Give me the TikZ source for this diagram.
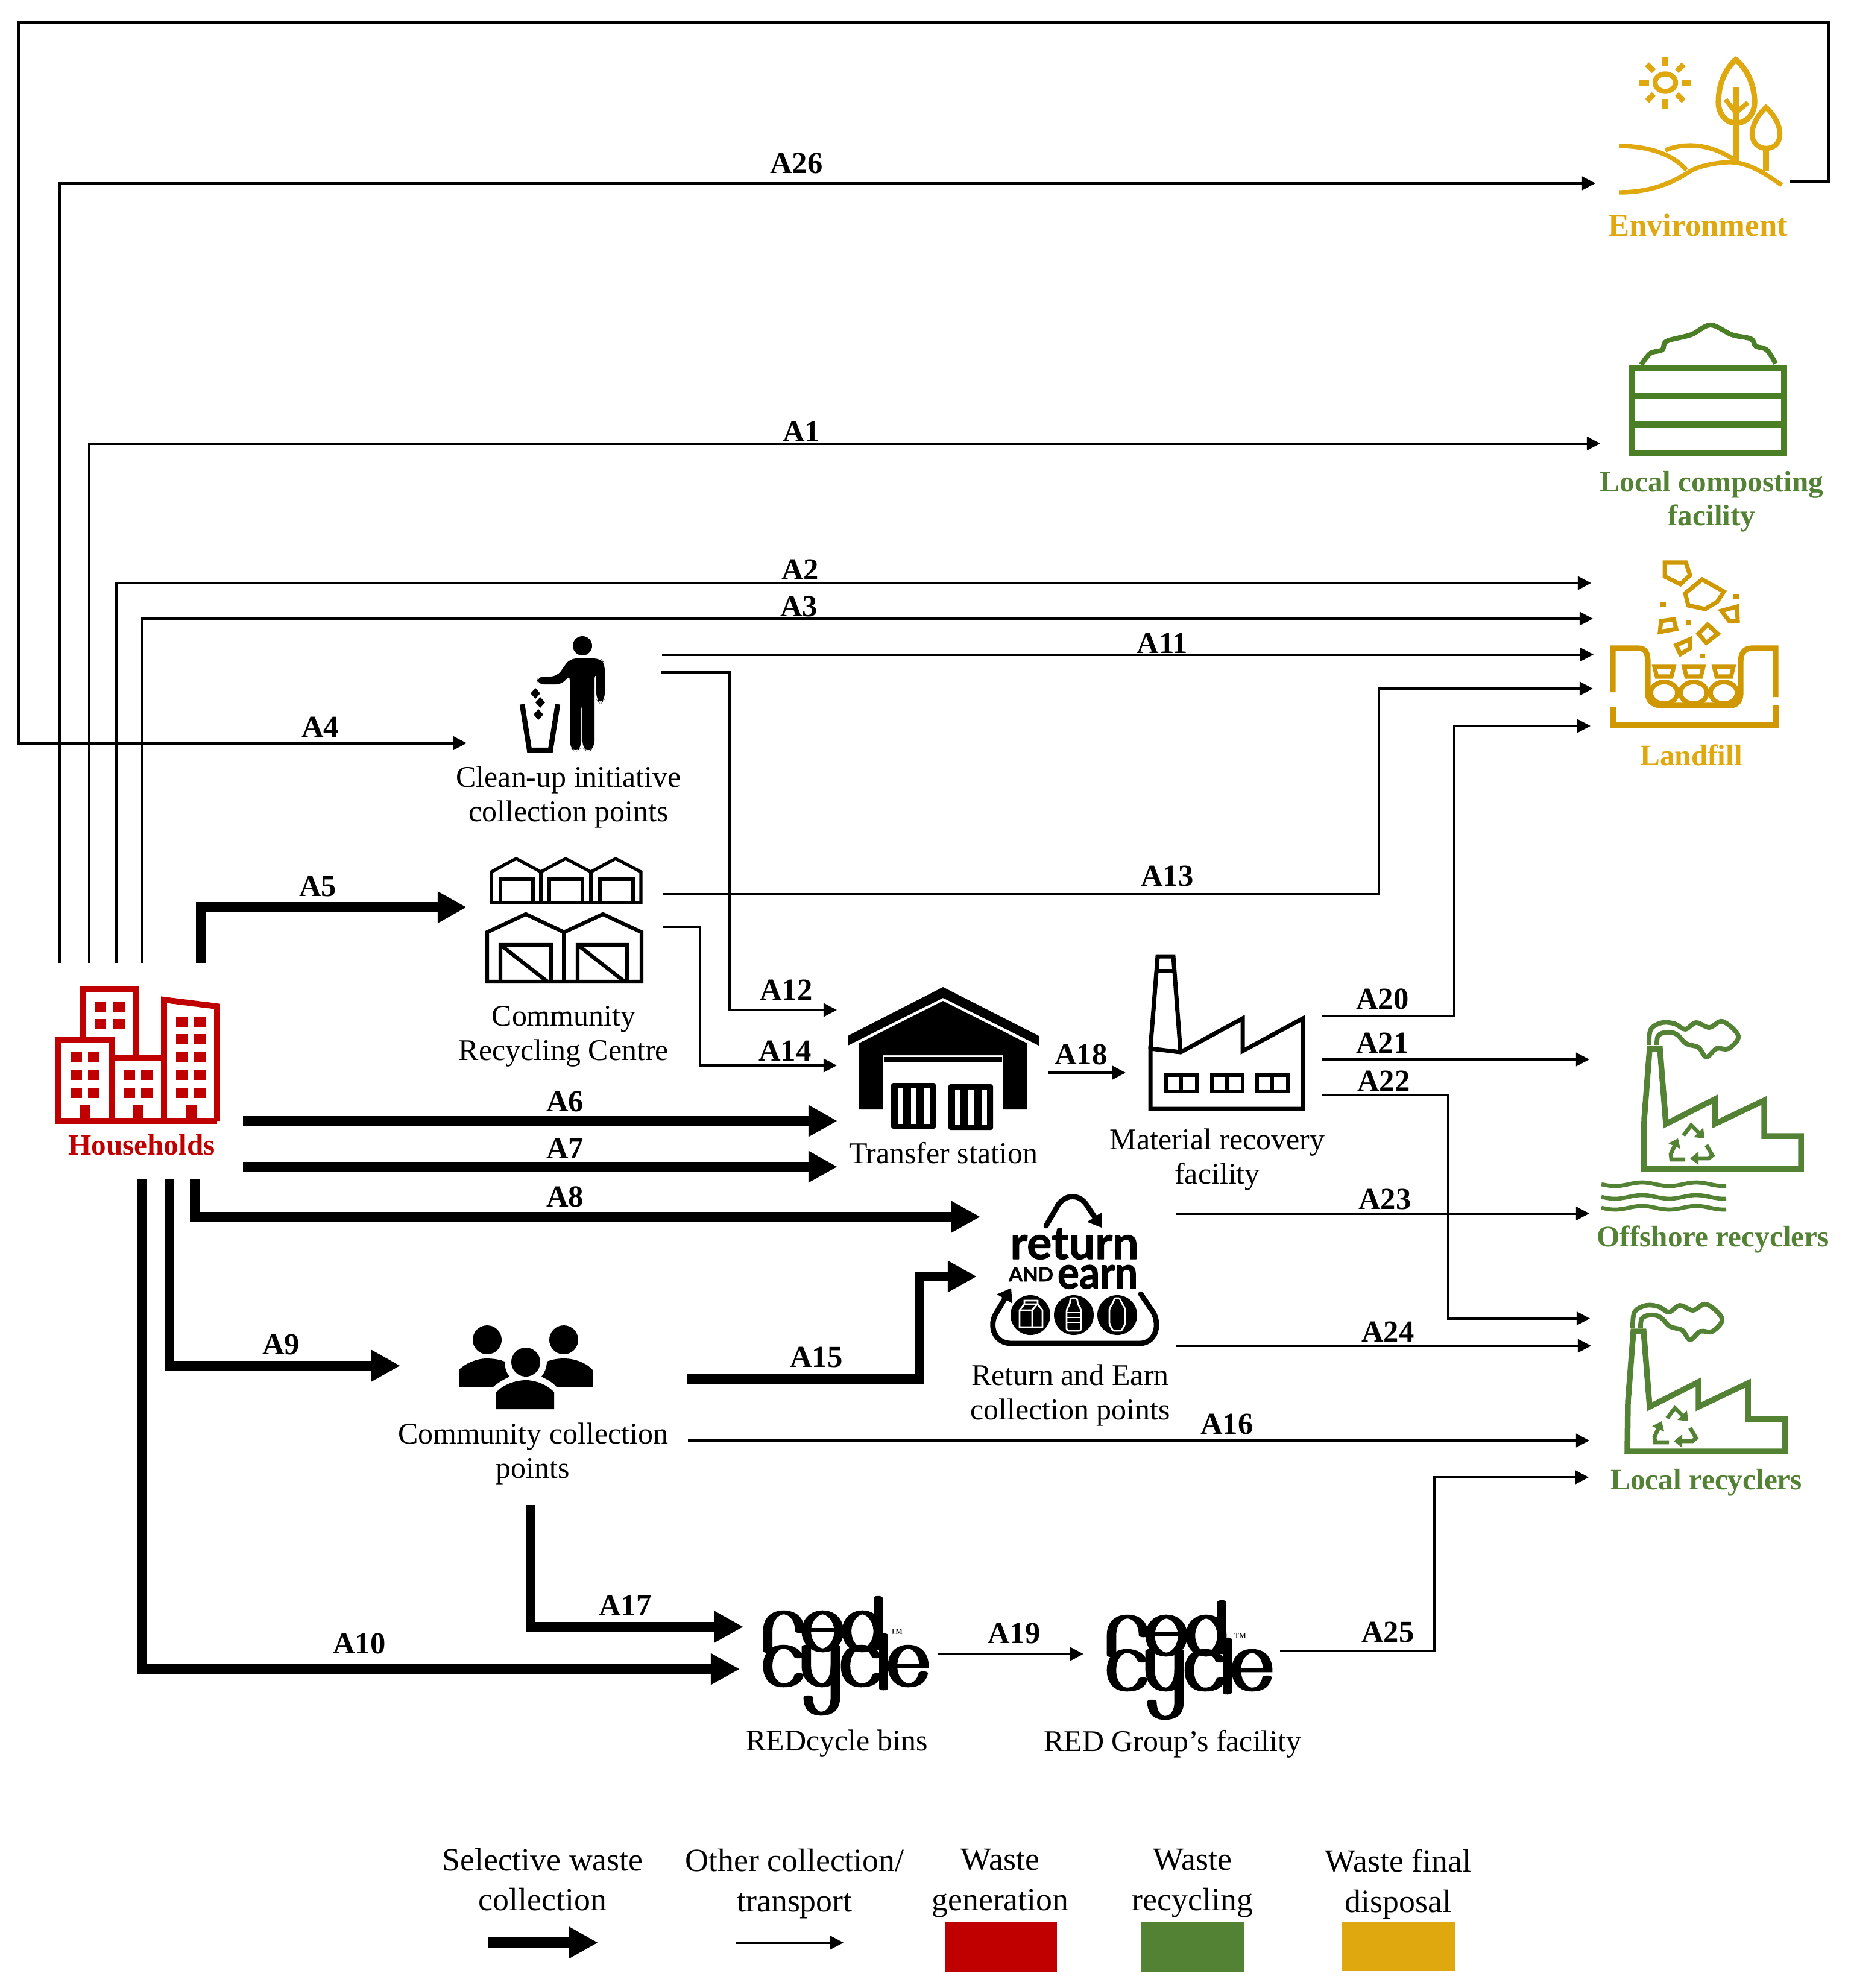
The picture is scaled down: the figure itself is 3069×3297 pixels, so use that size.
\documentclass[tikz,border=0pt]{standalone}
\usepackage{graphicx}
\usepackage{fontspec}
\setmainfont{Liberation Serif}
\newfontfamily\logofont{Lato}[BoldFeatures={FakeBold=1.5}]
\usetikzlibrary{arrows.meta,calc}
\definecolor{hhred}{HTML}{C00000}
\definecolor{recgreen}{HTML}{548235}
\definecolor{compgreen}{HTML}{4A7F25}
\definecolor{envgold}{HTML}{DFA80F}
\definecolor{lfgold}{HTML}{CF9700}
\tikzset{
  thinline/.style={draw=black,line width=1.14pt,-{Triangle[length=6.3pt,width=6.3pt]}},
  thickline/.style={draw=black,line width=4.8pt,-{Triangle[length=13.7pt,width=14pt]}},
  lab/.style={inner sep=0pt,xshift=.02cm,yshift=-.02cm,font=\fontsize{14.4}{16}\selectfont\bfseries},
  txt/.style={inner sep=0pt,align=center,xshift=.02cm,yshift=-.06cm,font=\fontsize{14.2}{16.2}\selectfont},
  ent/.style={inner sep=0pt,align=center,xshift=.02cm,yshift=-.04cm,font=\fontsize{14}{16}\selectfont\bfseries},
  leg/.style={inner sep=0pt,align=center,font=\fontsize{15.3}{19}\selectfont},
}
% recycling factory icon, drawn in the offshore position and shifted
\newcommand{\recfactory}[2]{%
\begin{scope}[shift={(#1,#2)},draw=recgreen,fill=recgreen]
  \draw[line width=2.7pt,line join=miter] (2726,1938) -- (2727,1856) -- (2736,1739) -- (2753,1739) -- (2763,1864) -- (2844,1823) -- (2844,1864) -- (2926,1825) -- (2926,1884) -- (2987,1884) -- (2987,1938) -- cycle;
  \draw[line width=2.2pt] plot[smooth,tension=.6] coordinates {(2735,1733) (2738,1707) (2757,1696) (2778,1698) (2795,1707) (2813,1696) (2835,1704) (2857,1694) (2883,1718) (2867,1739) (2847,1739) (2830,1753) (2817,1737) (2797,1731) (2780,1715) (2763,1712) (2750,1718) (2748,1733)};
  \draw[line width=1.9pt,-{Triangle[length=4pt,width=6pt]}] (2792,1883) -- (2805,1866) -- (2827,1888);
  \draw[line width=1.9pt,-{Triangle[length=4pt,width=6pt]}] (2830,1899) -- (2840,1916) -- (2834,1921) -- (2803,1921);
  \draw[line width=1.9pt,-{Triangle[length=4pt,width=6pt]}] (2795,1923) -- (2772,1923) -- (2771,1914) -- (2783,1888);
\end{scope}}
% redcycle logo: strokes thick when upright, thin when level
\newcommand{\redcyclelogo}[3]{%
\begin{scope}[transform canvas={xscale=2.4},x=0.0041667cm,shift={(#1,#2)},line width=1.85pt,line cap=round,draw=black]
  \draw (1273,2738) -- (1273,2705) .. controls (1273,2685) and (1285,2674) .. (1299,2674) .. controls (1315,2674) and (1326,2685) .. (1326,2705);
  \draw (1364,2705.5) ellipse [x radius=27,y radius=31.5];
  \draw (1337,2703) -- (1391,2703);
  \draw (1430,2705.5) ellipse [x radius=26,y radius=31.5];
  \draw (1456,2650) -- (1456,2733);
  \foreach \dx in {0,129}{
    \draw[shift={(\dx,0)}] (1324,2747) .. controls (1320,2737) and (1310,2731) .. (1299,2731) .. controls (1282,2731) and (1273,2745) .. (1273,2763) .. controls (1273,2781) and (1282,2795) .. (1299,2795) .. controls (1312,2795) and (1322,2790) .. (1325,2778);
  }
  \draw (1337,2731) -- (1337,2763) .. controls (1337,2781) and (1348,2795) .. (1363,2795) .. controls (1378,2795) and (1385,2781) .. (1385,2763);
  \draw (1385,2731) -- (1385,2815) .. controls (1385,2835) and (1375,2842) .. (1361,2842) .. controls (1347,2842) and (1340,2830) .. (1340,2815);
  \draw (1465,2712) -- (1465,2800);
  \draw (1480,2763) -- (1532,2763) .. controls (1532,2745) and (1522,2731) .. (1506,2731) .. controls (1490,2731) and (1480,2745) .. (1480,2763) .. controls (1480,2781) and (1490,2795) .. (1506,2795) .. controls (1520,2795) and (1528,2788) .. (1531,2775);
\end{scope}
\node[inner sep=0pt,font=\fontsize{6}{6}\selectfont] (#3) at ($(1487,2709)+(#1,#2)$) {™};}
\begin{document}
\begin{tikzpicture}[x=0.01cm,y=-0.01cm]
\path[use as bounding box,fill=white] (0,0) rectangle (3069,3297);

%% ---------- connector end points ----------
\coordinate (hh26) at (98.6,1597);  \coordinate (env26) at (2646,304);
\coordinate (hh1)  at (147.7,1597); \coordinate (comp1) at (2654,735.5);
\coordinate (hh2)  at (192.6,1597); \coordinate (lf2)  at (2639,967);
\coordinate (hh3)  at (236,1597);   \coordinate (lf3)  at (2642,1026);
\coordinate (envOut) at (2969,301); \coordinate (loopTR) at (3033,37); \coordinate (loopL) at (31,1232.5);
\coordinate (clean4) at (774,1232.5);
\coordinate (clean11) at (1098,1085.5); \coordinate (lf11) at (2643,1085.5);
\coordinate (clean12) at (1097,1115); \coordinate (j12) at (1210,1115); \coordinate (ts12) at (1388,1675);
\coordinate (crc13) at (1100,1483); \coordinate (j13) at (2287,1483); \coordinate (lf13) at (2642,1142);
\coordinate (crc14) at (1100,1537); \coordinate (j14) at (1161,1537); \coordinate (ts14) at (1388,1767);
\coordinate (hh5) at (333.6,1597); \coordinate (crc5) at (774,1504.6);
\coordinate (hh6) at (403,1859); \coordinate (ts6) at (1389,1859);
\coordinate (hh7) at (403,1935); \coordinate (ts7) at (1389,1935);
\coordinate (hh8) at (323,1955); \coordinate (re8) at (1626,2018);
\coordinate (hh9) at (281,1955); \coordinate (cc9) at (664,2265);
\coordinate (hh10) at (235,1955); \coordinate (rb10) at (1227,2768);
\coordinate (cc15) at (1139,2287); \coordinate (j15) at (1525,2287); \coordinate (re15) at (1620,2117);
\coordinate (cc16) at (1141,2389); \coordinate (lr16) at (2636,2389);
\coordinate (cc17) at (880,2496); \coordinate (rb17) at (1233,2698);
\coordinate (ts18) at (1739,1779); \coordinate (mrf18) at (1867,1779);
\coordinate (rb19) at (1556,2743); \coordinate (rg19) at (1797,2743);
\coordinate (mrf20) at (2192,1685); \coordinate (j20) at (2412,1685); \coordinate (lf20) at (2638,1204);
\coordinate (mrf21) at (2192,1757); \coordinate (off21) at (2636,1757);
\coordinate (mrf22) at (2192,1816); \coordinate (j22) at (2402,1816); \coordinate (lr22) at (2637,2186.6);
\coordinate (re23) at (1949.5,2012.5); \coordinate (off23) at (2636,2012.5);
\coordinate (re24) at (1949.5,2232); \coordinate (lr24) at (2639,2232);
\coordinate (rg25) at (2123,2738); \coordinate (j25) at (2379,2738); \coordinate (lr25) at (2635,2450);
\coordinate (legA) at (810,3221.7); \coordinate (legB) at (992,3221.7);
\coordinate (legC) at (1220,3221.7); \coordinate (legD) at (1399,3221.7);

%% ---------- connectors ----------
\draw[thinline] (hh26) |- (env26);
\draw[thinline] (hh1) |- (comp1);
\draw[thinline] (hh2) |- (lf2);
\draw[thinline] (hh3) |- (lf3);
\draw[thinline] (envOut) -| (loopTR) -| (loopL) -- (clean4);
\draw[thinline] (clean11) -- (lf11);
\draw[thinline] (clean12) -- (j12) |- (ts12);
\draw[thinline,line width=1.4pt] (crc13) -- (j13) |- (lf13);
\draw[thinline] (crc14) -- (j14) |- (ts14);
\draw[thickline] (hh5) |- (crc5);
\draw[thickline] (hh6) -- (ts6);
\draw[thickline] (hh7) -- (ts7);
\draw[thickline] (hh8) |- (re8);
\draw[thickline] (hh9) |- (cc9);
\draw[thickline] (hh10) |- (rb10);
\draw[thickline] (cc15) -- (j15) |- (re15);
\draw[thinline] (cc16) -- (lr16);
\draw[thickline] (cc17) |- (rb17);
\draw[thinline] (ts18) -- (mrf18);
\draw[thinline] (rb19) -- (rg19);
\draw[thinline] (mrf20) -- (j20) |- (lf20);
\draw[thinline] (mrf21) -- (off21);
\draw[thinline] (mrf22) -- (j22) |- (lr22);
\draw[thinline] (re23) -- (off23);
\draw[thinline] (re24) -- (lr24);
\draw[thinline] (rg25) -- (j25) |- (lr25);
\draw[thickline] (legA) -- (legB);
\draw[thinline] (legC) -- (legD);

%% ---------- connector labels ----------
\node[lab] (lA26) at (1319,269) {A26};
\node[lab] (lA1) at (1327,714) {A1};
\node[lab] (lA2) at (1325,943) {A2};
\node[lab] (lA3) at (1323,1004) {A3};
\node[lab] (lA11) at (1926,1065) {A11};
\node[lab] (lA4) at (529,1204) {A4};
\node[lab] (lA5) at (525,1468) {A5};
\node[lab] (lA13) at (1934,1451) {A13};
\node[lab] (lA12) at (1302,1640) {A12};
\node[lab] (lA14) at (1300,1741) {A14};
\node[lab] (lA6) at (935,1825) {A6};
\node[lab] (lA7) at (935,1903) {A7};
\node[lab] (lA8) at (935,1983) {A8};
\node[lab] (lA18) at (1791,1747) {A18};
\node[lab] (lA20) at (2291,1655) {A20};
\node[lab] (lA21) at (2291,1728) {A21};
\node[lab] (lA22) at (2293,1791) {A22};
\node[lab] (lA23) at (2295,1987) {A23};
\node[lab] (lA24) at (2300,2207) {A24};
\node[lab] (lA15) at (1352,2249) {A15};
\node[lab] (lA9) at (464,2228) {A9};
\node[lab] (lA16) at (2033,2360) {A16};
\node[lab] (lA17) at (1035,2661) {A17};
\node[lab] (lA10) at (594,2724) {A10};
\node[lab] (lA19) at (1680,2707) {A19};
\node[lab] (lA25) at (2300,2705) {A25};

%% ---------- entity labels ----------
\node[ent,text=envgold,font=\fontsize{15}{16}\selectfont\bfseries] (envT) at (2814,369) {Environment};
\node[ent,text=recgreen] (compT) at (2837,828) {Local composting\\facility};
\node[ent,text=envgold] (lfT) at (2803,1248) {Landfill};
\node[ent,text=recgreen] (offT) at (2839,2051) {Offshore recyclers};
\node[ent,text=recgreen] (lrT) at (2828,2455) {Local recyclers};
\node[ent,text=hhred] (hhT) at (233,1895) {Households};
\node[txt] (cleanT) at (941,1316) {Clean-up initiative\\collection points};
\node[txt] (crcT) at (933,1713) {Community\\Recycling Centre};
\node[txt] (tsT) at (1562.5,1906) {Transfer station};
\node[txt] (mrfT) at (2017,1917) {Material recovery\\facility};
\node[txt] (reT) at (1773,2307.5) {Return and Earn\\collection points};
\node[txt] (ccT) at (882,2404.5) {Community collection\\points};
\node[txt] (rbT) at (1386,2886) {REDcycle bins};
\node[txt] (rgT) at (1943,2886) {RED Group’s facility};

%% ---------- legend ----------
\node[leg] (lg1) at (900,3117) {Selective waste\\collection};
\node[leg] (lg2) at (1318,3124) {Other collection/\\transport};
\node[leg] (lg3) at (1659,3123.5) {Waste\\generation};
\node[leg] (lg4) at (1978,3123.5) {Waste\\recycling};
\node[leg] (lg5) at (2319,3125) {Waste final\\disposal};
\fill[hhred] (1567,3188) rectangle (1753,3270);
\fill[recgreen] (1892,3188) rectangle (2063,3270);
\fill[envgold] (2226,3187) rectangle (2413,3269);

%% ---------- Households icon ----------
\begin{scope}[draw=hhred,fill=hhred,line width=2.8pt,line join=miter]
  \draw (137,1719) -- (137,1640) -- (225,1640) -- (225,1749);
  \draw (97,1724) rectangle (185,1859);
  \draw (185,1754) -- (272,1754);
  \draw (97,1859) -- (360,1859);
  \draw (272,1859) -- (272,1658) -- (360,1669) -- (360,1859);
  \foreach \xx in {157,188}\foreach \yy in {1661,1690}\fill (\xx,\yy) rectangle ++(19,17);
  \foreach \xx in {117,146}\foreach \yy in {1745,1774,1804}\fill (\xx,\yy) rectangle ++(19,17);
  \foreach \xx in {205,234}\foreach \yy in {1774,1804}\fill (\xx,\yy) rectangle ++(19,17);
  \foreach \xx in {292,322}\foreach \yy in {1686,1715,1745,1774,1804}\fill (\xx,\yy) rectangle ++(19,17);
  \foreach \xx in {132,220,308}\fill (\xx,1832) rectangle ++(18,32);
\end{scope}

%% ---------- Clean-up icon ----------
\fill (966,1071) circle [radius=16];
\fill[rounded corners=3pt] (945,1092) -- (996,1092) -- (1003,1100) -- (1003,1160) -- (996,1168) -- (989,1160) -- (989,1115) -- (986,1115) -- (986,1240) -- (975,1248) -- (966,1240) -- (966,1166) -- (964,1166) -- (964,1240) -- (955,1248) -- (945,1240) -- (945,1118) -- (933,1135) -- (891,1135) -- (891,1122) -- (924,1122) -- cycle;
\draw[line width=2.4pt,line join=miter] (866,1168) -- (878,1244) -- (913,1244) -- (925,1168);
\foreach \cx/\cy in {888/1150,896/1165,893/1185}\fill (\cx-8,\cy) -- (\cx,\cy-9) -- (\cx+8,\cy) -- (\cx,\cy+9) -- cycle;

%% ---------- Community Recycling Centre icon ----------
\begin{scope}[line width=1.5pt,line join=miter]
  \draw (815,1497) -- (815,1446) -- (856,1424) -- (897,1446) -- (938,1424) -- (980,1446) -- (1021,1424) -- (1063,1446) -- (1063,1497) -- cycle;
  \draw (897,1446) -- (897,1497) (980,1446) -- (980,1497);
  \draw (830,1497) -- (830,1458) -- (884,1458) -- (884,1497);
  \draw (911,1497) -- (911,1458) -- (966,1458) -- (966,1497);
  \draw (995,1497) -- (995,1458) -- (1050,1458) -- (1050,1497);
\end{scope}
\begin{scope}[line width=1.8pt,line join=miter]
  \draw (808,1628) -- (808,1546) -- (872,1516) -- (935.5,1546) -- (1000,1516) -- (1064,1546) -- (1064,1628) -- cycle;
  \draw (935.5,1546) -- (935.5,1628);
  \draw (830,1628) -- (830,1567) -- (914,1567) -- (914,1628) (830,1567) -- (908,1628);
  \draw (958,1628) -- (958,1567) -- (1040,1567) -- (1040,1628) (958,1567) -- (1036,1628);
\end{scope}

%% ---------- Community collection icon ----------
\fill (808,2222) circle [radius=24];
\fill (935,2222) circle [radius=24];
\fill (872,2259) circle [radius=24];
\fill (761,2300) -- (761,2272) .. controls (775,2258) and (795,2253) .. (807,2253) .. controls (818,2253) and (830,2255) .. (837,2258) .. controls (837,2268) and (840,2277) .. (845,2283) .. controls (835,2288) and (826,2293) .. (818,2300) -- cycle;
\fill (983,2300) -- (983,2272) .. controls (970,2258) and (950,2253) .. (935,2253) .. controls (925,2253) and (914,2255) .. (907,2258) .. controls (907,2268) and (903,2277) .. (898,2283) .. controls (908,2288) and (917,2293) .. (923,2300) -- cycle;
\fill (823,2337) -- (823,2309) .. controls (835,2296) and (855,2289) .. (872,2289) .. controls (888,2289) and (907,2296) .. (919,2309) -- (919,2337) -- cycle;

%% ---------- Transfer station icon ----------
\fill (1564,1637) -- (1723,1718) -- (1723,1734) -- (1564,1655) -- (1406,1734) -- (1406,1718) -- cycle;
\fill (1564,1660) -- (1703,1730) -- (1703,1840) -- (1664,1840) -- (1664,1750) -- (1464,1750) -- (1464,1840) -- (1425,1840) -- (1425,1730) -- cycle;
\fill (1466,1753) rectangle (1662,1762);
\fill[rounded corners=1pt] (1478,1796) rectangle (1552,1872);
\fill[rounded corners=1pt] (1573,1798) rectangle (1647,1874);
\foreach \xx in {1489,1511,1533}\fill[white] (\xx,1805) rectangle ++(9,59);
\foreach \xx in {1584,1606,1628}\fill[white] (\xx,1807) rectangle ++(9,59);

%% ---------- Material recovery facility icon ----------
\begin{scope}[line width=2pt,line join=miter]
  \draw (1908,1739) -- (1908,1839) -- (2161,1839) -- (2161,1689) -- (2061,1743) -- (2061,1689) -- (1958,1745) -- cycle;
  \draw (1908,1739) -- (1920,1586) -- (1946,1586) -- (1958,1745);
  \draw (1916,1610) -- (1950,1610);
  \foreach \xx in {1931,2007,2082}{\draw[line width=1.8pt] (\xx+3,1783) rectangle (\xx+54,1810); \draw[line width=1.8pt] (\xx+28,1783) -- (\xx+28,1810);}
\end{scope}

%% ---------- Return and Earn logo ----------
\begin{scope}[line width=2.5pt,line cap=round,line join=round]
  \draw[-{Triangle[length=6pt,width=8pt]}] (1735,2033) -- (1755,1998) .. controls (1768,1980) and (1790,1980) .. (1802,1998) -- (1827,2036);
  \node[inner sep=0pt,anchor=base,font=\logofont\bfseries] (reR) at (1782,2088) {\resizebox{2.13cm}{.51cm}{return}};
  \node[inner sep=0pt,anchor=base,font=\logofont\bfseries] (reA) at (1710,2125) {\resizebox{.74cm}{.23cm}{AND}};
  \node[inner sep=0pt,anchor=base,font=\logofont\bfseries] (reE) at (1820.5,2137) {\resizebox{1.33cm}{.39cm}{earn}};
  \draw[{Triangle[length=6pt,width=8pt]}-] (1677,2136) -- (1651,2180) .. controls (1640,2200) and (1650,2228) .. (1677,2228) -- (1890,2228) .. controls (1915,2228) and (1925,2200) .. (1913,2177) -- (1892,2146);
  \fill (1709,2181) circle [radius=33];
  \fill (1781,2181) circle [radius=33];
  \fill (1853,2181) circle [radius=33];
  \begin{scope}[draw=white,line width=.8pt,line cap=butt,line join=miter]
    \draw (1691,2173) -- (1699,2163) -- (1699,2157) -- (1721,2157) -- (1721,2163) -- (1729,2173) -- (1729,2201) -- (1691,2201) -- cycle;
    \draw (1699,2163) -- (1721,2163) (1691,2173) -- (1712,2173) -- (1712,2201) (1712,2173) -- (1720,2163);
    \draw[rounded corners=1pt] (1775,2153) -- (1787,2153) -- (1787,2161) -- (1793,2172) -- (1793,2207) -- (1769,2207) -- (1769,2172) -- (1775,2161) -- cycle;
    \draw (1769,2177) -- (1793,2177) (1769,2185) -- (1793,2185) (1769,2193) -- (1793,2193);
    \draw[rounded corners=.6pt] (1845,2162) -- (1849,2153) -- (1857,2153) -- (1861,2162) -- (1866,2170) -- (1866,2196) -- (1860,2207) -- (1846,2207) -- (1840,2196) -- (1840,2170) -- cycle;
  \end{scope}
\end{scope}

%% ---------- REDcycle logos ----------
\redcyclelogo{0}{0}{tmA}
\redcyclelogo{570}{7}{tmB}

%% ---------- Environment icon ----------
\begin{scope}[draw=envgold,fill=envgold,line width=2.1pt]
  \draw[line width=2.4pt] (2762,137) ellipse [x radius=17,y radius=14.5];
  \foreach \a in {0,45,...,315}{\draw[line width=2.6pt] (\a:27) ++(2762,137) -- ++(\a:16);}
  \draw[line width=2.6pt] (2879,99) .. controls (2865,110) and (2850,135) .. (2850,170) .. controls (2850,190) and (2865,205) .. (2879,204) .. controls (2895,205) and (2910,190) .. (2910,170) .. controls (2910,135) and (2893,110) .. (2879,99) -- cycle;
  \draw[line width=2.7pt] (2879,145) -- (2879,270);
  \draw[line width=2.2pt] (2879,187) -- (2862,165) (2879,187) -- (2899,170);
  \draw[line width=2.4pt] (2929,178) .. controls (2918,188) and (2906,205) .. (2906,222) .. controls (2906,240) and (2920,246) .. (2929,246) .. controls (2940,246) and (2952,240) .. (2952,222) .. controls (2952,205) and (2940,188) .. (2929,178) -- cycle;
  \draw[line width=2.6pt] (2929,246) -- (2929,283);
  \draw (2686,319) .. controls (2720,319) and (2760,312) .. (2800,286) .. controls (2820,272) and (2860,269) .. (2867,269) .. controls (2900,268) and (2930,290) .. (2955,307);
  \draw (2686,242) .. controls (2720,242) and (2770,250) .. (2797,282);
  \draw (2762,249) .. controls (2790,238) and (2830,235) .. (2875,264);
\end{scope}

%% ---------- Compost icon ----------
\begin{scope}[draw=compgreen,line width=2.6pt,line join=miter]
  \draw (2707,610) rectangle (2959,751);
  \draw (2707,657) -- (2959,657) (2707,704) -- (2959,704);
  \draw[line width=2.3pt] plot[smooth,tension=.55] coordinates {(2722,605) (2737,586) (2757,580) (2764,566) (2805,555) (2837,539) (2872,555) (2904,562) (2912,574) (2930,580) (2945,603)};
\end{scope}

%% ---------- Landfill icon ----------
\begin{scope}[draw=lfgold,fill=lfgold,line width=2.6pt,line join=miter]
  \draw (2675,1148) -- (2675,1075) -- (2718,1075) .. controls (2730,1075) and (2733,1085) .. (2733,1098) -- (2733,1150) .. controls (2733,1165) and (2745,1170) .. (2755,1170) -- (2870,1170) .. controls (2882,1170) and (2887,1160) .. (2887,1150) -- (2887,1098) .. controls (2887,1085) and (2892,1075) .. (2905,1075) -- (2945,1075) -- (2945,1156);
  \draw (2675,1173) -- (2675,1203) -- (2945,1203) -- (2945,1169);
  \foreach \cx in {2760,2809,2859}{
    \draw[line width=2.2pt] (\cx,1149) ellipse [x radius=22,y radius=18];
    \draw[line width=2pt] (\cx-16,1106) -- (\cx+16,1106) -- (\cx+12,1122) -- (\cx-12,1122) -- cycle;
  }
  \draw[line width=2pt] (2761,933) -- (2796,933) -- (2803,954) -- (2787,969) -- (2761,956) -- cycle;
  \draw[line width=2pt] (2795,984) -- (2823,961) -- (2859,981) -- (2848,998) -- (2828,1010) -- (2800,1004) -- cycle;
  \draw[line width=2pt] (2855,1013) -- (2881,1006) -- (2882,1030) -- (2868,1030) -- cycle;
  \draw[line width=2pt] (2755,1030) -- (2776,1027) -- (2780,1043) -- (2753,1048) -- cycle;
  \draw[line width=2pt] (2817,1051) -- (2832,1036) -- (2849,1051) -- (2830,1066) -- cycle;
  \draw[line width=2pt] (2780,1070) -- (2803,1060) -- (2803,1075) -- (2787,1085) -- cycle;
  \foreach \cx/\cy in {2758/1003,2879/989,2800/1032,2823/1088}\fill (\cx-4.5,\cy-4) rectangle (\cx+4.5,\cy+4);
\end{scope}

%% ---------- Recyclers icons ----------
\recfactory{0}{0}
\recfactory{-27}{469}
\foreach \wy in {1964,1985,2003}{
  \draw[recgreen,line width=1.9pt] plot[smooth,domain=0:207,samples=30] (\x+2656,{\wy+3*sin(\x*4)});
}
\end{tikzpicture}
\end{document}
